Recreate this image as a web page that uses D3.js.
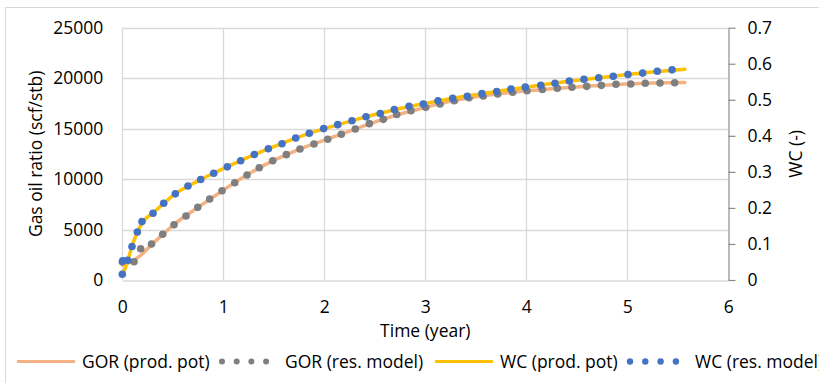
<!DOCTYPE html>
<html>
<head>
<meta charset="utf-8">
<script src="https://cdn.jsdelivr.net/npm/d3@7"></script>
<style>
  html, body { margin: 0; padding: 0; background: #fff; }
  svg { display: block; font-family: "Open Sans", sans-serif; }
</style>
</head>
<body>
<svg id="chart" width="819" height="383"></svg>
<script>
// Axis ticks
const timeTicks = [0, 1, 2, 3, 4, 5, 6];
const gorTicks = [0, 5000, 10000, 15000, 20000, 25000];
const wcTicks = [0, 0.1, 0.2, 0.3, 0.4, 0.5, 0.6, 0.7];

// GOR, production potential (line)
const gorProdTime = [0, 0.1, 0.2, 0.3, 0.4, 0.5, 0.75, 1.0, 1.25, 1.5, 1.75, 2.0, 2.25, 2.5, 2.75, 3.0, 3.25, 3.5, 3.75, 4.0, 4.25, 4.5, 4.75, 5.0, 5.25, 5.57];
const gorProdValue = [1500, 1850, 2600, 3600, 4500, 5400, 7200, 8900, 10500, 11850, 12950, 13850, 14750, 15650, 16450, 17100, 17700, 18150, 18480, 18750, 18950, 19130, 19300, 19420, 19510, 19580];

// GOR, reservoir model (dots)
const gorResTime = [0, 0.116, 0.182, 0.289, 0.40, 0.512, 0.631, 0.747, 0.865, 0.987, 1.113, 1.235, 1.356, 1.489, 1.624, 1.759, 1.898, 2.034, 2.168, 2.307, 2.446, 2.584, 2.717, 2.858, 3.004, 3.146, 3.287, 3.433, 3.574, 3.717, 3.865, 4.007, 4.159, 4.307, 4.452, 4.598, 4.743, 4.888, 5.034, 5.178, 5.324, 5.469];
const gorResValue = [1800, 1810, 3100, 3570, 4530, 5480, 6340, 7200, 8030, 8850, 9640, 10400, 11130, 11820, 12420, 12980, 13480, 13940, 14440, 14960, 15490, 15920, 16400, 16780, 17110, 17440, 17770, 18060, 18230, 18430, 18600, 18760, 18880, 19000, 19100, 19190, 19290, 19390, 19420, 19490, 19520, 19550];

// WC, production potential (line)
const wcProdTime = [0, 0.05, 0.1, 0.15, 0.2, 0.3, 0.4, 0.5, 0.75, 1.0, 1.25, 1.5, 1.75, 2.0, 2.25, 2.5, 2.75, 3.0, 3.25, 3.5, 3.75, 4.0, 4.25, 4.5, 4.75, 5.0, 5.25, 5.57];
const wcProdValue = [0.012, 0.05, 0.097, 0.133, 0.160, 0.185, 0.210, 0.234, 0.275, 0.309, 0.341, 0.370, 0.397, 0.420, 0.440, 0.459, 0.476, 0.490, 0.503, 0.514, 0.525, 0.535, 0.545, 0.554, 0.562, 0.570, 0.577, 0.585];

// WC, reservoir model (dots)
const wcResTime = [0, 0.005, 0.053, 0.096, 0.149, 0.195, 0.304, 0.41, 0.525, 0.65, 0.776, 0.905, 1.04, 1.172, 1.307, 1.446, 1.581, 1.717, 1.851, 1.994, 2.133, 2.274, 2.413, 2.554, 2.693, 2.839, 2.98, 3.126, 3.271, 3.416, 3.561, 3.707, 3.849, 3.99, 4.143, 4.284, 4.426, 4.571, 4.717, 4.861, 5.007, 5.152, 5.297, 5.443];
const wcResValue = [0.016, 0.053, 0.055, 0.093, 0.133, 0.162, 0.185, 0.213, 0.239, 0.261, 0.279, 0.296, 0.314, 0.331, 0.348, 0.364, 0.378, 0.394, 0.407, 0.420, 0.431, 0.442, 0.453, 0.462, 0.473, 0.482, 0.488, 0.497, 0.504, 0.510, 0.517, 0.523, 0.530, 0.535, 0.540, 0.546, 0.552, 0.557, 0.561, 0.565, 0.570, 0.574, 0.579, 0.583];

const legendLabels = ["GOR (prod. pot)", "GOR (res. model)", "WC (prod. pot)", "WC (res. model)"];

const colors = { gorLine: "#f4b183", gorDot: "#7f7f7f", wcLine: "#ffc000", wcDot: "#4472c4", grid: "#d9d9d9", axis: "#8c8c8c", text: "#000" };
const FS = 17.5;

const svg = d3.select("#chart");

const plot = { left: 122.3, right: 728.3, top: 27.7, bottom: 280 };
const x = d3.scaleLinear().domain([0, 6]).range([plot.left, plot.right]);
const yL = d3.scaleLinear().domain([0, 25000]).range([plot.bottom, plot.top]);
const yR = d3.scaleLinear().domain([0, 0.7]).range([plot.bottom, plot.top]);

// Chart frame
svg.append("rect").attr("x", 5.5).attr("y", 7.5).attr("width", 900).attr("height", 500)
  .attr("fill", "#fff").attr("stroke", colors.grid).attr("stroke-width", 1);

// Gridlines
const grid = svg.append("g");
grid.selectAll(".hg").data(gorTicks.slice(1)).join("line")
  .attr("x1", plot.left).attr("x2", plot.right)
  .attr("y1", d => Math.round(yL(d)) + 0.5).attr("y2", d => Math.round(yL(d)) + 0.5)
  .attr("stroke", colors.grid).attr("stroke-width", 1.3);
grid.selectAll(".vg").data(timeTicks.slice(0, -1)).join("line")
  .attr("x1", d => Math.round(x(d)) + 0.5).attr("x2", d => Math.round(x(d)) + 0.5)
  .attr("y1", plot.top).attr("y2", plot.bottom)
  .attr("stroke", colors.grid).attr("stroke-width", 1.3);

// Bottom axis
const xAxis = svg.append("g").attr("transform", `translate(0,${Math.round(plot.bottom) + 0.5})`)
  .call(d3.axisBottom(x).tickValues(timeTicks).tickFormat(d3.format("d")).tickSize(0).tickPadding(20));
xAxis.select(".domain").attr("stroke", colors.grid).attr("stroke-width", 1.3);
xAxis.selectAll("text").attr("font-size", FS).attr("fill", colors.text).attr("font-family", "Open Sans");

// Left axis
const yAxisL = svg.append("g").attr("transform", `translate(${plot.left},0)`)
  .call(d3.axisLeft(yL).tickValues(gorTicks).tickFormat(d3.format("d")).tickSize(0).tickPadding(19));
yAxisL.select(".domain").remove();
yAxisL.selectAll("text").attr("font-size", FS).attr("fill", colors.text).attr("font-family", "Open Sans");

// Right axis
const yAxisR = svg.append("g").attr("transform", `translate(${Math.round(plot.right) + 0.5},0)`)
  .call(d3.axisRight(yR).tickValues(wcTicks).tickFormat(d => d === 0 ? "0" : d3.format(".1f")(d)).tickSize(7).tickSizeOuter(0).tickPadding(12));
yAxisR.select(".domain").attr("stroke", colors.axis).attr("stroke-width", 1.2);
yAxisR.selectAll(".tick line").attr("stroke", colors.axis).attr("stroke-width", 1.2);
yAxisR.selectAll("text").attr("font-size", FS).attr("fill", colors.text).attr("font-family", "Open Sans");

// Axis titles
svg.append("text").attr("x", (plot.left + plot.right) / 2).attr("y", 336.5)
  .attr("text-anchor", "middle").attr("font-size", FS).attr("fill", colors.text).text("Time (year)");
svg.append("text").attr("transform", `translate(42,${(plot.top + plot.bottom) / 2}) rotate(-90)`)
  .attr("text-anchor", "middle").attr("font-size", FS).attr("fill", colors.text).text("Gas oil ratio (scf/stb)");
svg.append("text").attr("transform", `translate(802,${(plot.top + plot.bottom) / 2}) rotate(-90)`)
  .attr("text-anchor", "middle").attr("font-size", FS).attr("fill", colors.text).text("WC (-)");

// Series
const gorLineData = gorProdTime.map((t, i) => [t, gorProdValue[i]]);
const gorDotData = gorResTime.map((t, i) => [t, gorResValue[i]]);
const wcLineData = wcProdTime.map((t, i) => [t, wcProdValue[i]]);
const wcDotData = wcResTime.map((t, i) => [t, wcResValue[i]]);

const lineL = d3.line().x(d => x(d[0])).y(d => yL(d[1])).curve(d3.curveMonotoneX);
const lineR = d3.line().x(d => x(d[0])).y(d => yR(d[1])).curve(d3.curveMonotoneX);

svg.append("path").datum(gorLineData).attr("d", lineL)
  .attr("fill", "none").attr("stroke", colors.gorLine).attr("stroke-width", 3.5).attr("stroke-linecap", "round");
svg.append("g").selectAll("circle").data(gorDotData).join("circle")
  .attr("cx", d => x(d[0])).attr("cy", d => yL(d[1])).attr("r", 3.8).attr("fill", colors.gorDot);
svg.append("path").datum(wcLineData).attr("d", lineR)
  .attr("fill", "none").attr("stroke", colors.wcLine).attr("stroke-width", 3.5).attr("stroke-linecap", "round");
svg.append("g").selectAll("circle").data(wcDotData).join("circle")
  .attr("cx", d => x(d[0])).attr("cy", d => yR(d[1])).attr("r", 3.8).attr("fill", colors.wcDot);

// Legend
const lg = svg.append("g");
const ly = 361.5;
lg.append("line").attr("x1", 17).attr("x2", 75).attr("y1", ly).attr("y2", ly)
  .attr("stroke", colors.gorLine).attr("stroke-width", 3);
lg.append("text").attr("x", 82).attr("y", ly + 6).attr("font-size", FS).attr("fill", colors.text).text(legendLabels[0]);
lg.selectAll(".gd").data([0, 1, 2, 3]).join("circle")
  .attr("cx", d => 222 + d * 14.7).attr("cy", ly).attr("r", 3).attr("fill", colors.gorDot);
lg.append("text").attr("x", 285).attr("y", ly + 6).attr("font-size", FS).attr("fill", colors.text).text(legendLabels[1]);
lg.append("line").attr("x1", 435).attr("x2", 493).attr("y1", ly).attr("y2", ly)
  .attr("stroke", colors.wcLine).attr("stroke-width", 3);
lg.append("text").attr("x", 500).attr("y", ly + 6).attr("font-size", FS).attr("fill", colors.text).text(legendLabels[2]);
lg.selectAll(".wd").data([0, 1, 2, 3]).join("circle")
  .attr("cx", d => 630 + d * 15.3).attr("cy", ly).attr("r", 3.2).attr("fill", colors.wcDot);
lg.append("text").attr("x", 695).attr("y", ly + 6).attr("font-size", FS).attr("fill", colors.text).text(legendLabels[3]);
</script>
</body>
</html>
